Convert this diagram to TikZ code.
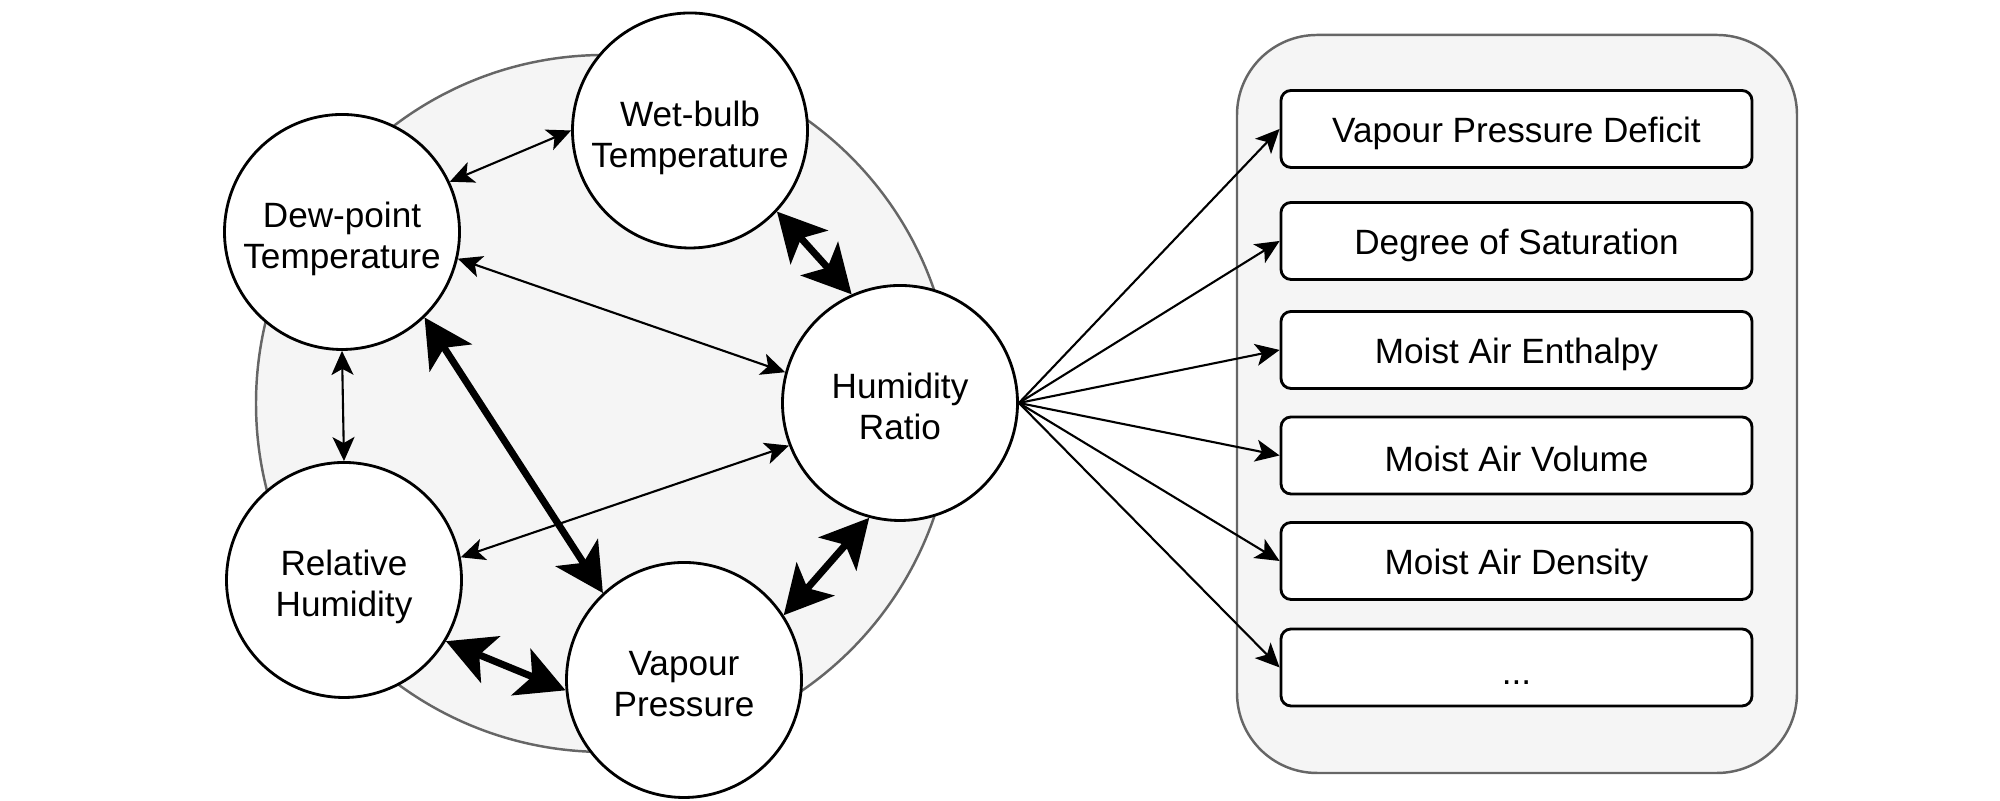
\documentclass[tikz,border=0pt]{standalone}
\usepackage{fontspec}
\setmainfont{Liberation Sans}
\usetikzlibrary{arrows.meta}
\definecolor{panelgray}{HTML}{F5F5F5}
\definecolor{edgegray}{HTML}{666666}

\begin{document}
\begin{tikzpicture}[every node/.style={align=center, font=\fontsize{10}{11.7}\selectfont}]
\tikzset{
  prop/.style={circle, draw, line width=0.8pt, fill=white, minimum size=2.35cm, inner sep=0pt, text height=21pt, text depth=0pt},
  derived/.style={draw, rounded corners=0.1cm, line width=0.8pt, fill=white, minimum width=4.71cm, minimum height=0.77cm,
    execute at begin node={\rule{0pt}{9.5pt}}},
  weak/.style={{Stealth[length=0.24cm, width=0.22cm, inset=0.06cm]}-{Stealth[length=0.24cm, width=0.22cm, inset=0.06cm]}, line width=0.6pt},
  strong/.style={{Stealth[length=0.48cm, width=0.5cm, inset=0.12cm]}-{Stealth[length=0.48cm, width=0.5cm, inset=0.12cm]}, line width=2pt},
  fan/.style={-{Stealth[length=0.24cm, width=0.22cm, inset=0.06cm]}, line width=0.6pt}
}
\useasboundingbox (0,0) rectangle (20,8.01);

% Background panels
\draw[edgegray, fill=panelgray, line width=0.7pt] (6.045,3.975) circle (3.485);
\draw[edgegray, fill=panelgray, line width=0.7pt, rounded corners=0.8cm] (12.37,0.28) rectangle (17.97,7.66);

% Properties (Left)
\node[prop] (wet) at (6.90,6.705) {Wet-bulb\\Temperature};
\node[prop] (dew) at (3.42,5.69) {Dew-point\\Temperature};
\node[prop] (hr) at (9.00,3.98) {Humidity\\Ratio};
\node[prop] (rh) at (3.44,2.21) {Relative\\Humidity};
\node[prop] (vp) at (6.84,1.21) {Vapour\\Pressure};

% Derived quantities (Right)
\node[derived] (vpd) at (15.165,6.72) {Vapour Pressure Deficit};
\node[derived] (dos) at (15.165,5.60) {Degree of Saturation};
\node[derived] (enth) at (15.165,4.51) {Moist Air Enthalpy};
\node[derived] (vol) at (15.165,3.455) {Moist Air Volume};
\node[derived] (dens) at (15.165,2.40) {Moist Air Density};
\node[derived] (more) at (15.165,1.335) {...};

% Conversions
\draw[weak] (dew.25) -- (wet.180);
\draw[weak] (dew.-13) -- (hr.165);
\draw[weak] (dew.south) -- (rh.north);
\draw[weak] (rh.11) -- (hr.201);
\draw[strong] (dew.-46) -- (vp.133);
\draw[strong] (wet.-43) -- (hr.114);
\draw[strong] (rh.-31) -- (vp.185);
\draw[strong] (vp.33) -- (hr.255);

% Outputs
\foreach \target in {vpd, dos, enth, vol, dens, more}
  \draw[fan] (hr.east) -- (\target.west);

\end{tikzpicture}
\end{document}
